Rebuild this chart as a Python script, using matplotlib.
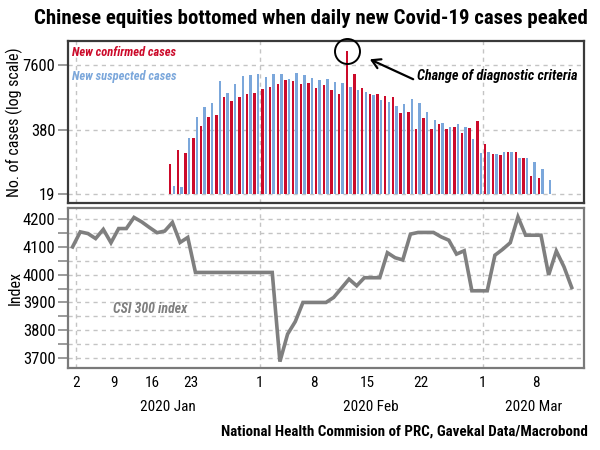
import numpy as np
import pandas as pd
import matplotlib
matplotlib.use("Agg")
import matplotlib.pyplot as plt
from matplotlib import font_manager
from matplotlib.ticker import FixedLocator, MultipleLocator, NullLocator

# --- data ------------------------------------------------------------------
case_start = "2020-01-20"

# new confirmed cases, daily from 20 Jan to 8 Mar
confirmed = [78, 149, 131, 256, 440, 686, 755, 1740, 1445, 1717, 1976, 2090,
             2560, 2770, 3230, 3820, 3650, 3140, 3330, 2640, 3040, 2440, 2000,
             15000, 5040, 2600, 2000, 2000, 1825, 1720, 815, 880, 394, 650, 394,
             490, 394, 426, 322, 418, 571,
             199, 123, 118, 137, 137, 101, 44, 40]

# new suspected cases, daily from 20 Jan to 9 Mar
suspected = [27, 26, 256, 677, 1110, 1300, 3700, 2070, 3190, 4600, 4810, 4970,
             4450, 5040, 5040, 3950, 5200, 4750, 4140, 3820, 3950, 3490, 3280,
             2730, 2410, 2230, 1890, 1510, 1405, 1160, 1258, 1564, 1338, 881,
             597, 514, 426, 500, 437, 248, 127,
             137, 123, 137, 137, 101, 101, 84, 61, 36]

# CSI 300 closes on trading days
csi_dates = ["2019-12-31", "2020-01-02", "2020-01-03", "2020-01-06", "2020-01-07",
             "2020-01-08", "2020-01-09", "2020-01-10", "2020-01-13", "2020-01-14",
             "2020-01-15", "2020-01-16", "2020-01-17", "2020-01-20", "2020-01-21",
             "2020-01-22", "2020-01-23", "2020-02-03", "2020-02-04", "2020-02-05",
             "2020-02-06", "2020-02-07", "2020-02-10", "2020-02-11", "2020-02-12",
             "2020-02-13", "2020-02-14", "2020-02-17", "2020-02-18", "2020-02-19",
             "2020-02-20", "2020-02-21", "2020-02-24", "2020-02-25", "2020-02-26",
             "2020-02-27", "2020-02-28", "2020-03-02", "2020-03-03", "2020-03-04",
             "2020-03-05", "2020-03-06", "2020-03-09", "2020-03-10", "2020-03-11",
             "2020-03-12"]
csi_values = [4100, 4154, 4148, 4130, 4163, 4115, 4166, 4166, 4206, 4190,
              4170, 4151, 4157, 4188, 4116, 4134, 4008, 3687, 3786, 3831,
              3900, 3900, 3918, 3951, 3984, 3960, 3989, 4079, 4061, 4053,
              4146, 4152, 4136, 4124, 4074, 4086, 3942, 4070, 4091, 4115,
              4208, 4142, 3999, 4085, 4028, 3954]

tick_dates = ["2020-01-02", "2020-01-09", "2020-01-16", "2020-01-23", "2020-02-01",
              "2020-02-08", "2020-02-15", "2020-02-22", "2020-03-01", "2020-03-08"]
grid_dates = ["2020-01-02", "2020-02-01", "2020-03-01"]
case_ticks = [19, 380, 7600]

RED = "#cc0a2a"
BLUE = "#7ba7db"
GREY_LINE = "#7f7f7f"
GRID = "#c4c4c4"

# --- fonts ------------------------------------------------------------------
available = {f.name for f in font_manager.fontManager.ttflist}
narrow = next((f for f in ["Roboto Condensed", "Liberation Sans Narrow",
                           "Open Sans Condensed", "Liberation Sans"]
               if f in available), "DejaVu Sans")
plt.rcParams["font.family"] = [narrow, "DejaVu Sans"]

# --- x positions: union of trading days and daily case dates ----------------
case_dates = pd.date_range(case_start, periods=len(suspected), freq="D")
csi = pd.Series(csi_values, index=pd.to_datetime(csi_dates))
axis_dates = csi.index.union(case_dates)
pos = pd.Series(np.arange(len(axis_dates), dtype=float), index=axis_dates)
line = csi.reindex(axis_dates).ffill()

x_conf = pos[case_dates[:len(confirmed)]].values
x_susp = pos[case_dates].values
shift = 0.6  # labels sit a bit left of the data point
x_ticks = pos[pd.to_datetime(tick_dates)].values - shift
x_grid = pos[pd.to_datetime(grid_dates)].values - shift
xlim = (-0.6, len(axis_dates) - 1 + 1.6)

fig = plt.figure(figsize=(6, 4.5), dpi=100)
ax1 = fig.add_axes([0.1133, 0.5489, 0.86, 0.36])
ax2 = fig.add_axes([0.1133, 0.1822, 0.86, 0.3556])

for ax, edge in ((ax1, "#3a3a3a"), (ax2, "#7a7a7a")):
    for s in ax.spines.values():
        s.set_color(edge)
        s.set_linewidth(1.6)
    ax.set_xlim(*xlim)
    ax.tick_params(axis="y", direction="out", length=7, width=1.2,
                   color="#8a8a8a", labelsize=12, pad=2)
    ax.tick_params(axis="y", which="minor", direction="out", length=7,
                   width=1.2, color="#8a8a8a")
    for gx in x_grid:
        ax.axvline(gx, color=GRID, lw=1, ls=(0, (3, 3)), zorder=0)

# --- top: cases ---------------------------------------------------------------
ax1.set_yscale("log")
ax1.set_ylim(12.5, 23500)
ax1.yaxis.set_major_locator(FixedLocator(case_ticks))
ax1.yaxis.set_minor_locator(NullLocator())
ax1.set_yticklabels([str(v) for v in case_ticks])
for v in case_ticks:
    ax1.axhline(v, color=GRID, lw=1, ls=(0, (3, 3)), zorder=0)
ax1.bar(x_conf - 0.28, np.array(confirmed) - 19, bottom=19, width=0.32,
        color=RED, zorder=2)
ax1.bar(x_susp + 0.18, np.array(suspected) - 19, bottom=19, width=0.32,
        color=BLUE, zorder=2)
ax1.set_xticks([])
ax1.set_ylabel("No. of cases (log scale)", fontsize=11.5)
ax1.yaxis.set_label_coords(-0.087, 0.5)

ax1.text(0.008, 0.926, "New confirmed cases", transform=ax1.transAxes,
         color=RED, fontsize=9, style="italic", weight="semibold", va="center")
ax1.text(0.008, 0.778, "New suspected cases", transform=ax1.transAxes,
         color=BLUE, fontsize=9, style="italic", weight="semibold", va="center")

peak = int(np.argmax(confirmed))
ax1.plot(x_conf[peak] - 0.28, confirmed[peak], marker="o", ms=18, mfc="none",
         mec="black", mew=1.4, clip_on=False, zorder=5)
ax1.annotate("", xy=(0.585, 0.887), xycoords="axes fraction",
             xytext=(0.669, 0.764), textcoords="axes fraction",
             arrowprops=dict(arrowstyle="->,head_length=0.6,head_width=0.35",
                             color="black", lw=1.6, shrinkA=0, shrinkB=0))
ax1.text(0.676, 0.784, "Change of diagnostic criteria", transform=ax1.transAxes,
         fontsize=10.3, style="italic", weight="bold", va="center", ha="left")

# --- bottom: CSI 300 -------------------------------------------------------------
ax2.plot(pos.values, line.values, color=GREY_LINE, lw=2.6,
         solid_joinstyle="miter", zorder=3)
ax2.set_ylim(3664, 4240)
ax2.yaxis.set_major_locator(MultipleLocator(100))
ax2.yaxis.set_minor_locator(MultipleLocator(50))
ax2.grid(axis="y", which="both", color=GRID, lw=1, ls=(0, (3, 3)), zorder=0)
ax2.set_ylabel("Index", fontsize=11.5)
ax2.yaxis.set_label_coords(-0.087, 0.5)
ax2.text(0.087, 0.369, "CSI 300 index", transform=ax2.transAxes,
         color=GREY_LINE, fontsize=10, style="italic", weight="semibold",
         va="center")

ax2.set_xticks(x_ticks)
ax2.set_xticklabels([str(pd.Timestamp(d).day) for d in tick_dates])
ax2.tick_params(axis="x", length=0, labelsize=11, pad=6)

month_edges = list(x_ticks[[0, 4, 8]]) + [xlim[1]]
for i, name in enumerate(["2020 Jan", "2020 Feb", "2020 Mar"]):
    mid = (month_edges[i] + month_edges[i + 1]) / 2
    ax2.text(mid, -0.245, name, transform=ax2.get_xaxis_transform(),
             ha="center", va="center", fontsize=11)

fig.text(0.518, 0.96, "Chinese equities bottomed when daily new Covid-19 cases peaked",
         ha="center", va="center", fontsize=15, weight="bold")
fig.text(0.98, 0.042, "National Health Commision of PRC, Gavekal Data/Macrobond",
         ha="right", va="center", fontsize=10.8, weight="bold")

fig.savefig("out.png", dpi=100)
